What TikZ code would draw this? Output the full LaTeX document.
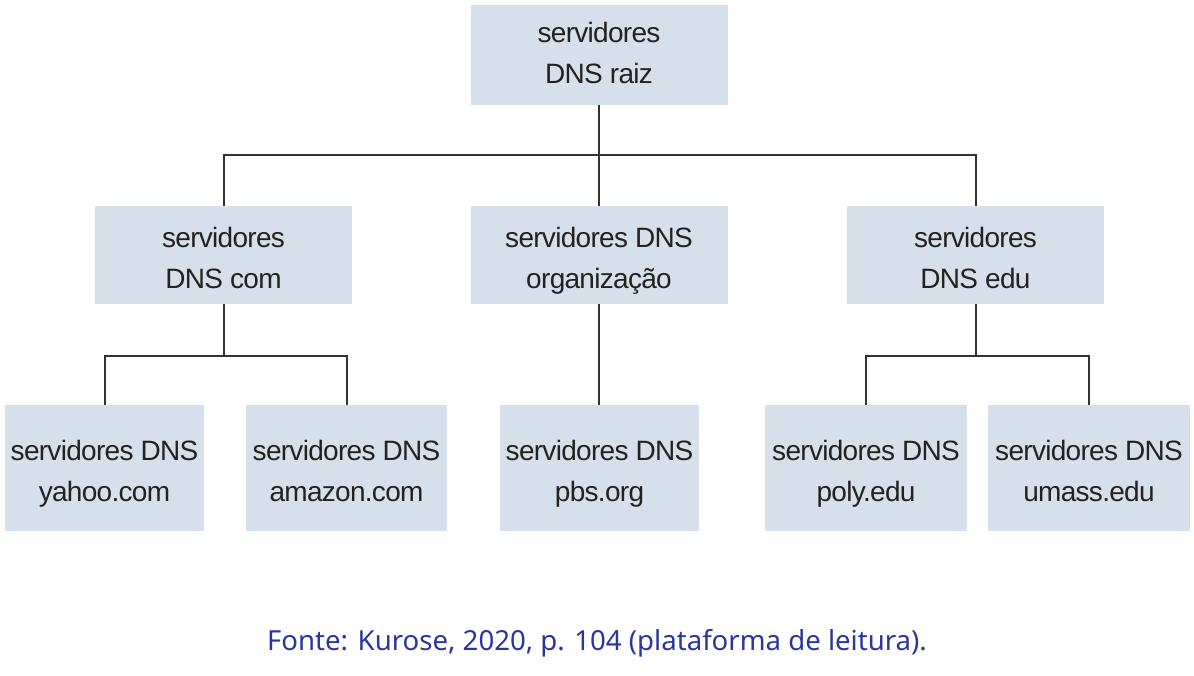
\documentclass[tikz,border=0pt]{standalone}
\usepackage{fontspec}
\setmainfont{Liberation Sans}
\newfontfamily\boxfont[LetterSpace=-2.5]{Liberation Sans}
\newfontfamily\capfont{Noto Sans}
\definecolor{boxfill}{HTML}{D5E0EA}
\definecolor{boxtext}{HTML}{222222}
\definecolor{linecol}{HTML}{333333}
\definecolor{capcol}{HTML}{2B35A0}
% optional arg: extra room above the first line (moves text down by half of it)
\newcommand\twoline[3][0pt]{\rule{0pt}{\dimexpr0.7\baselineskip+#1\relax}#2\\\strut #3}
\begin{document}
\begin{tikzpicture}[x=1pt,y=1pt,
  srv/.style={fill=boxfill, draw=none, inner sep=0pt, align=center,
    text=boxtext, font=\boxfont\fontsize{28}{41}\selectfont},
  conn/.style={draw=linecol, line width=2pt},
  ]
\useasboundingbox (0,0) rectangle (1194,-676);
\fill[white] (0,0) rectangle (1194,-676);
% level 1
\node[srv, minimum width=257pt, minimum height=100pt] (root) at (599,-55) {\twoline{servidores}{DNS raiz}};
% level 2
\node[srv, minimum width=257pt, minimum height=98pt] (com) at (223.5,-255) {\twoline[10pt]{servidores}{DNS com}};
\node[srv, minimum width=257pt, minimum height=98pt] (org) at (599,-255) {\twoline[10pt]{servidores DNS}{organização}};
\node[srv, minimum width=257pt, minimum height=98pt] (edu) at (975.5,-255) {\twoline[10pt]{servidores}{DNS edu}};
% level 3
\node[srv, minimum width=199pt, minimum height=126pt] (yahoo) at (104.5,-468) {\twoline[9pt]{servidores DNS}{yahoo.com}};
\node[srv, minimum width=201pt, minimum height=126pt] (amazon) at (346.5,-468) {\twoline[9pt]{servidores DNS}{amazon.com}};
\node[srv, minimum width=199pt, minimum height=126pt] (pbs) at (599.5,-468) {\twoline[9pt]{servidores DNS}{pbs.org}};
\node[srv, minimum width=202pt, minimum height=126pt] (poly) at (866,-468) {\twoline[9pt]{servidores DNS}{poly.edu}};
\node[srv, minimum width=202pt, minimum height=126pt] (umass) at (1089,-468) {\twoline[9pt]{servidores DNS}{umass.edu}};
% bus coordinates
\coordinate (topbus) at (0,-155);
\coordinate (combus) at (0,-356);
\coordinate (edubus) at (0,-356);
% connectors
\draw[conn] (root.south) -- (org.north);
\draw[conn] (com.north) |- (topbus -| edu.north) -- (edu.north);
\draw[conn] (com.south) -- (com.south |- combus);
\draw[conn] (yahoo.north) |- (combus -| amazon.north) -- (amazon.north);
\draw[conn] (org.south) -- (org.south |- pbs.north);
\draw[conn] (edu.south) -- (edu.south |- edubus);
\draw[conn] (poly.north) |- (edubus -| umass.north) -- (umass.north);
% caption
\node[text=capcol, font=\capfont\fontsize{27.6}{32}\selectfont, inner sep=0pt] (cap) at (597,-643) {Fonte: Kurose, 2020, p. 104 (plataforma de leitura).};
\end{tikzpicture}
\end{document}
